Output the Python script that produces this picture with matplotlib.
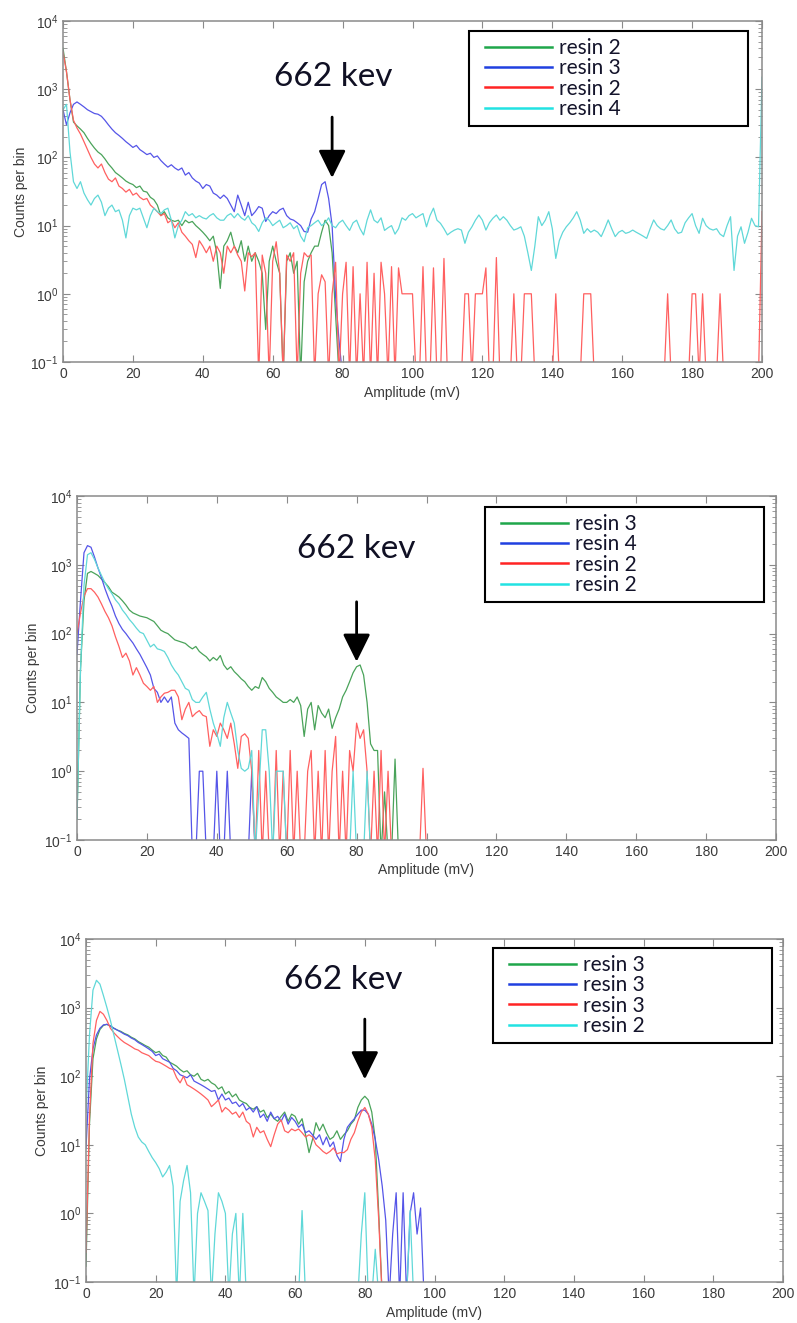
import numpy as np
import matplotlib
matplotlib.use("Agg")
import matplotlib.pyplot as plt
from matplotlib.lines import Line2D
from matplotlib.legend_handler import HandlerLine2D
from matplotlib.patches import ArrowStyle

plt.rcParams['font.family'] = ['Liberation Sans', 'DejaVu Sans']
plt.rcParams['mathtext.default'] = 'regular'

N_BINS = 201
amplitude = np.arange(N_BINS)  # bin centres, mV


def pad(values):
    # bins after the last listed one are empty
    out = np.zeros(N_BINS)
    out[:len(values)] = values
    return out


# ---------------- panel 1 ----------------
p1_labels = ["resin 2", "resin 3", "resin 2", "resin 4"]
p1_green = pad([
    4000, 1800, 700, 330, 290, 260, 230, 190, 160, 137,
    120, 110, 95, 80, 70, 60, 55, 50, 45, 42,
    40, 36, 38, 32, 31, 26, 24, 20, 14, 16,
    13, 12, 11.5, 12, 10, 12, 11, 11.5, 10, 9,
    8, 7, 6, 7, 4, 1.2, 5, 6, 8, 5,
    4, 6, 3, 5, 3, 4, 3, 2, 0.3, 3,
    5, 3, 2, 0, 3, 4, 2, 3, 0, 1.5,
    3, 4, 5, 5, 8, 12, 10, 4, 0.5, 0])
p1_blue = pad([
    500, 300, 450, 600, 650, 600, 550, 500, 470, 440,
    430, 400, 350, 300, 260, 230, 210, 190, 170, 155,
    140, 150, 130, 120, 110, 115, 100, 105, 90, 80,
    72, 78, 70, 65, 70, 55, 60, 50, 45, 42,
    35, 40, 38, 30, 28, 25, 28, 25, 20, 16,
    28, 20, 14, 22, 14, 16, 19, 18, 11.5, 14,
    16, 15, 17, 18, 14, 12.5, 12, 11, 10, 8.2,
    8, 12.5, 16, 25, 40, 44, 25, 10, 0.9, 0.2])
p1_red = pad([
    3500, 1800, 700, 350, 270, 220, 170, 130, 100, 80,
    70, 80, 60, 48, 44, 50, 38, 35, 31, 34,
    28, 30, 26, 24, 25, 20, 18, 16, 14, 15,
    11, 12, 9.3, 11, 8, 7, 6, 5.3, 3.4, 6,
    5, 4, 5, 3, 5, 4, 2, 5, 4, 5,
    3.7, 3, 1.1, 4, 3.5, 4, 0, 3.7, 2, 0,
    3, 5.8, 2, 0, 3.7, 3, 4, 0, 2, 4,
    3.5, 3.7, 0, 1, 1.9, 1.5, 0, 1, 2.9, 0,
    1, 2.9, 0, 2.5, 0, 1, 0, 2.9, 0, 2,
    0, 2.9, 1, 0, 2.5, 0, 2.4, 1, 1, 1,
    1, 0, 0, 2.5, 0, 0, 2.4, 0, 0, 3.3,
    0, 0, 0, 0, 0, 1, 1, 0, 1, 1,
    1, 2.4, 0, 0, 3.4, 0, 0, 0, 0, 1,
    0, 0, 1, 1, 1, 0, 0, 0, 0, 0,
    0, 1, 0, 0, 0, 0, 0, 0, 0, 1,
    1, 1, 0, 0, 0, 0, 0, 0, 0, 0,
    0, 0, 0, 0, 0, 0, 0, 0, 0, 0,
    0, 0, 0, 1, 0, 0, 0, 0, 0, 0,
    1, 1, 0, 1, 0, 0, 0, 0, 1, 0,
    0, 0, 0, 0, 0, 0, 0, 0, 0, 0,
    16])
p1_cyan = pad([
    500, 600, 120, 44, 35, 44, 30, 24, 20, 25,
    28, 22, 14, 18, 20, 16, 17, 12, 6.6, 14,
    18, 17, 18, 13, 9.3, 14, 18, 16, 15, 17,
    18, 12, 6.6, 10, 12, 16, 14, 15, 13, 14,
    13, 12.5, 14, 15, 13, 12, 12, 14, 15, 13,
    15, 13, 12, 14, 11, 10, 8.2, 11, 13, 12,
    10, 11, 12, 9.3, 10, 11, 9, 10, 7, 5.8,
    9.3, 10, 11, 12, 10, 11, 13, 10, 9.3, 11,
    12, 10, 8.5, 11, 12, 9, 7.3, 12, 17, 12,
    11, 13, 8.5, 9.3, 10, 7.5, 9, 13, 12, 14,
    15, 13, 14, 15, 9.6, 14, 18, 12, 10.8, 9,
    7.3, 8, 8.6, 9, 8.6, 5.5, 8, 9.6, 12, 14.3,
    12, 8.6, 11, 12.8, 14.3, 12, 13.5, 12, 10, 8.6,
    9, 9.6, 7, 4, 2.2, 5, 13.5, 10, 12, 16,
    9, 3.3, 6, 8, 9.6, 11, 13, 16, 12, 7.7,
    9, 8, 8.6, 8, 6.9, 9, 12.1, 9, 6.9, 8,
    8.5, 7.7, 8, 8.6, 8, 7.5, 7, 6.5, 9, 12.1,
    10, 9, 8.6, 10, 12.1, 9, 7.7, 8, 11, 13,
    15, 10, 7.7, 12.8, 10, 9, 8.6, 9, 7.5, 6.9,
    10, 13.5, 2.2, 7, 9.6, 5.5, 8, 12.8, 10, 9.6,
    1500])

# ---------------- panel 2 ----------------
p2_labels = ["resin 3", "resin 4", "resin 2", "resin 2"]
p2_green = pad([
    0.2, 30, 300, 750, 800, 750, 700, 620, 550, 480,
    400, 370, 340, 300, 260, 220, 200, 190, 180, 175,
    170, 160, 150, 130, 112, 105, 100, 90, 81, 78,
    75, 72, 65, 60, 65, 55, 50, 46, 40, 45,
    41, 48, 35, 30, 33, 28, 25, 22, 20, 17,
    15, 17, 16, 23, 20, 16, 14, 12, 11, 10,
    10, 11, 10, 12, 9, 3.2, 8, 10, 4, 9,
    7, 6, 8, 4.2, 6, 8, 12, 15, 20, 27,
    33, 35, 25, 10, 2.5, 2, 2, 0, 0.5, 0,
    0, 1.5, 0])
p2_blue = pad([
    50, 300, 1500, 1900, 1800, 1300, 900, 650, 450, 330,
    250, 180, 140, 115, 100, 85, 73, 60, 50, 40,
    32, 25, 16, 14, 10, 12, 10, 12, 5, 4,
    3.6, 3.3, 3, 0, 0, 1, 1, 0, 0, 0,
    1, 0, 0, 1, 0, 0, 0, 0, 0, 0,
    1, 0])
p2_red = pad([
    100, 200, 350, 450, 450, 400, 340, 270, 210, 170,
    130, 90, 65, 45, 52, 40, 25, 32, 25, 19,
    17, 15, 17, 10, 12, 13.6, 14, 15, 15, 12,
    5.6, 8, 10, 6.2, 7, 7.6, 6.5, 6.2, 2.3, 4,
    3.2, 5, 4, 3, 5, 2.5, 1.1, 3.2, 3.5, 3,
    1, 0, 2, 0, 1, 0, 0, 2, 0, 1,
    0, 2, 0, 1, 0, 0, 1, 2, 0, 1,
    0, 2, 0, 1, 3.2, 0, 1, 0, 2, 1,
    5, 3, 4, 1, 0, 1, 0, 2, 0, 1,
    0, 0, 0, 0, 0, 0, 0, 0, 0, 1.1,
    0])
p2_cyan = pad([
    0.2, 30, 500, 1400, 1500, 1200, 900, 700, 550, 450,
    380, 310, 270, 220, 190, 160, 140, 120, 105, 100,
    80, 64, 70, 60, 58, 55, 45, 35, 29, 25,
    20, 16, 15, 11, 10, 10, 12, 14, 8, 5,
    3.5, 2.3, 6, 10, 7, 5, 2, 1.1, 1, 1.1,
    2, 0, 0.5, 4, 4, 1, 0, 1, 1, 1,
    0, 0, 0, 0, 0, 0, 0, 0, 0, 0,
    0, 0, 0, 0, 0, 0, 0, 0, 0, 1,
    0, 0, 0, 1, 0])

# ---------------- panel 3 ----------------
p3_labels = ["resin 3", "resin 3", "resin 3", "resin 2"]
p3_green = pad([
    0.17, 20, 180, 350, 480, 550, 570, 540, 500, 470,
    450, 420, 400, 370, 350, 320, 300, 280, 265, 240,
    220, 230, 200, 190, 160, 150, 140, 125, 115, 120,
    105, 100, 110, 90, 85, 90, 80, 75, 65, 70,
    55, 60, 50, 55, 45, 42, 40, 35, 33, 36,
    30, 32, 25, 28, 24, 22, 26, 30, 22, 28,
    26, 20, 24, 14, 7.7, 12, 21, 16, 20, 15,
    12, 13, 16, 12, 14, 16, 20, 23, 35, 45,
    51, 45, 30, 12, 1, 0])
p3_blue = pad([
    9, 90, 250, 400, 500, 560, 570, 540, 500, 470,
    440, 410, 390, 360, 340, 310, 290, 270, 250, 230,
    200, 210, 180, 170, 160, 130, 120, 105, 100, 95,
    105, 85, 80, 75, 70, 65, 60, 62, 45, 55,
    45, 48, 40, 42, 36, 40, 32, 35, 30, 36,
    25, 28, 22, 30, 24, 26, 22, 28, 20, 25,
    22, 18, 20, 15, 16, 14, 12, 14, 10, 13,
    9.4, 11, 7, 5.7, 12, 18, 21, 24, 28, 32,
    32, 28, 20, 12, 6, 2.5, 0.8, 0, 0.5, 2,
    0, 2, 0, 1, 2, 0.5, 1.2, 0])
p3_red = pad([
    0.27, 25, 300, 650, 880, 800, 650, 500, 430, 380,
    340, 310, 290, 270, 250, 240, 220, 210, 200, 180,
    165, 160, 150, 140, 130, 125, 95, 80, 100, 75,
    70, 65, 60, 55, 50, 45, 36, 40, 45, 30,
    35, 32, 28, 30, 25, 30, 22, 20, 13, 18,
    15, 16, 12, 9.4, 14, 20, 23, 16, 15, 17,
    16, 17, 15, 13, 14, 13, 10, 9, 8, 7.4,
    8, 9, 7.4, 7.7, 7.7, 8.5, 12, 15, 22, 30,
    35, 28, 18, 6, 0.8, 0])
p3_cyan = pad([
    30, 400, 1800, 2500, 2200, 1500, 1000, 650, 400, 250,
    150, 90, 50, 28, 18, 13, 11, 10, 8, 6.5,
    5.5, 4.5, 3.4, 4, 5, 2.5, 0, 1.5, 3, 5,
    2, 0, 1, 2, 1.5, 1.1, 0, 0.5, 2, 1.5,
    1, 0, 0.5, 1, 0, 1, 0, 0, 0, 0,
    0, 0, 0, 0, 0, 0, 0, 0, 0, 0,
    0, 0, 1.1, 0, 0, 0, 0, 0, 0, 0,
    0, 0, 0, 0, 0, 0, 0, 0, 0, 0.5,
    2, 0, 0, 0.3, 0, 0, 0, 0, 0, 0,
    0, 0, 0, 1.1, 0])

line_colors = ['#4aa35a', '#5555e8', '#ff6060', '#60d8d8']
legend_colors = ['#1fa64a', '#2040e0', '#ff2424', '#22e2e2']
EMPTY_FLOOR = 0.06  # empty bins are drawn at the bottom edge

W, H = 797, 1323
fig = plt.figure(figsize=(W / 100, H / 100), dpi=100)

panels = [
    # axes box in px (left, top, right, bottom), legend (left, top, width)
    dict(box=(63, 21, 762, 362), legend=(469, 31, 279),
         curves=[p1_green, p1_blue, p1_red, p1_cyan], labels=p1_labels,
         arrow=(77, 50, 390), text=(77.4, 1120), ylab_x=-0.050, xlab_y=-0.070),
    dict(box=(77, 496, 776, 840), legend=(485, 507, 279),
         curves=[p2_green, p2_blue, p2_red, p2_cyan], labels=p2_labels,
         arrow=(80, 39, 290), text=(79.8, 1260), ylab_x=-0.053, xlab_y=-0.067),
    dict(box=(86, 939, 783, 1282), legend=(493, 948, 279),
         curves=[p3_green, p3_blue, p3_red, p3_cyan], labels=p3_labels,
         arrow=(80, 90, 680), text=(73.8, 1860), ylab_x=-0.053, xlab_y=-0.070),
]

for p in panels:
    l, t, r, b = p['box']
    ax = fig.add_axes([l / W, 1 - b / H, (r - l) / W, (b - t) / H])

    for vals, c in zip(p['curves'], line_colors):
        ax.plot(amplitude, np.clip(vals, EMPTY_FLOOR, None), color=c, lw=0.9)

    ax.set_yscale('log')
    ax.set_ylim(0.1, 1e4)
    ax.set_xlim(0, 200)
    ax.set_xticks(np.arange(0, 201, 20))
    ax.tick_params(which='both', direction='in', top=True, right=True,
                   color='#8a8a8a', labelcolor='#3a3a3a', labelsize=10)
    ax.tick_params(which='major', length=5)
    ax.tick_params(which='minor', length=3)
    for s in ax.spines.values():
        s.set_color('#8a8a8a')
        s.set_linewidth(1.1)

    ax.set_xlabel('Amplitude (mV)', fontsize=10, color='#3a3a3a')
    ax.set_ylabel('Counts per bin', fontsize=10, color='#3a3a3a')
    ax.xaxis.set_label_coords(0.5, p['xlab_y'])
    ax.yaxis.set_label_coords(p['ylab_x'], 0.5)

    # 662 keV photopeak marker
    ax_x, tip, tail = p['arrow']
    ax.annotate('', xy=(ax_x, tip), xytext=(ax_x, tail),
                arrowprops=dict(arrowstyle=ArrowStyle('-|>', head_length=0.85, head_width=0.42),
                                mutation_scale=20, color='black', lw=2,
                                shrinkA=0, shrinkB=0))
    ax.text(p['text'][0], p['text'][1], '662 kev', ha='center', va='baseline',
            fontsize=24, family='Lato', color='#101024')

    lx, ly, lw = p['legend']
    handles = [Line2D([], [], color=c, lw=1.8) for c in legend_colors]
    leg = ax.legend(handles, p['labels'], loc='upper left',
                    bbox_to_anchor=(lx / W, 1 - ly / H, lw / W, 0),
                    bbox_transform=fig.transFigure, mode='expand',
                    borderaxespad=0, fancybox=False, framealpha=1,
                    edgecolor='black', prop={'family': 'Lato', 'size': 15},
                    labelcolor='#14142b', handlelength=3.65, handletextpad=0.33,
                    labelspacing=0.02, borderpad=0.33,
                    handler_map={Line2D: HandlerLine2D(xpad=0.46)})
    leg.get_frame().set_linewidth(1.5)

fig.savefig('out.png', dpi=100)
